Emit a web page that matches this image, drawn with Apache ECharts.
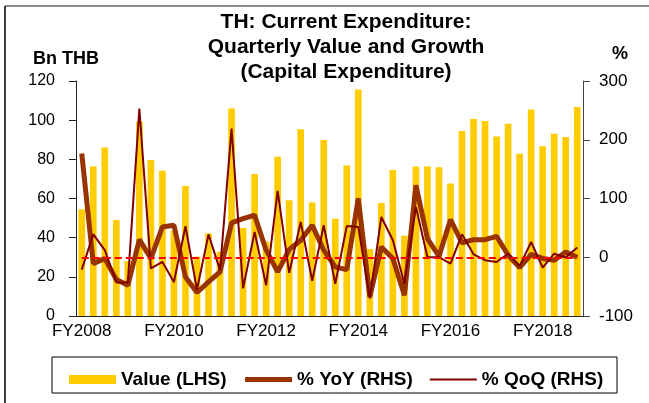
<!DOCTYPE html>
<html>
<head>
<meta charset="utf-8">
<script src="https://cdn.jsdelivr.net/npm/echarts@6/dist/echarts.min.js"></script>
<style>
html,body{margin:0;padding:0;background:#fff;}
#c{width:649px;height:403px;}
</style>
</head>
<body>
<div id="c"></div>
<script>
// Quarterly categories FY2008 Q1 .. FY2018 Q4
var years = ["FY2008","FY2009","FY2010","FY2011","FY2012","FY2013","FY2014","FY2015","FY2016","FY2017","FY2018"];
var quarters = ["Q1","Q2","Q3","Q4"];
var categories = [];
years.forEach(function(y){ quarters.forEach(function(q){ categories.push(y + " " + q); }); });

// Value (LHS), Bn THB
var valueLHS = [54.5,76.3,86,49,28,99.3,79.7,74.2,
                43.6,66.4,30.3,42.2,32.8,105.9,45,72.5,
                38,81.3,59.1,95.3,58,89.9,49.7,76.8,
                115.6,34.2,57.7,74.6,41,76.3,76.4,75.9,
                67.6,94.5,100.6,99.6,91.6,98.2,82.9,105.4,
                86.7,93.1,91.4,106.7];
// % YoY (RHS)
var yoyRHS = [176.5,-10.8,-2,-38,-47.7,30,-2,51.6,
              54.5,-33.5,-60,-42,-25,58.5,65.8,71.5,
              12,-25,13,29,54.5,12,-16.5,-21,
              100,-67.5,17.6,-2,-64.7,122.5,31.8,1.7,
              64,24.4,30,30,35.7,3.4,-17.6,5,
              -2,-5,9,0];
// % QoQ (RHS)
var qoqRHS = [-21,39,12,-43,-43,253,-19,-8,
              -42,52.8,-55,39,-22,219,-53,43,
              -47.7,113,-26.7,60,-40,54.5,-45,53,
              51.6,-70,68.6,29,-45,85.7,0,0,
              -11,39,5,-5,-8,6,-15,26,
              -17.6,6,-0.5,16.5];

var leftTicks = {min:0, max:120, interval:20};
var rightTicks = {min:-100, max:300, interval:100};
var labelEvery = 8;  // one label per two fiscal years
var tickEvery = 4;   // one tick per fiscal year

var FONT = "Liberation Sans, Arial, sans-serif";
var noSymbol = {color:'rgba(0,0,0,0)', borderColor:'rgba(0,0,0,0)', borderWidth:0};
var chart = echarts.init(document.getElementById('c'), null, {renderer:'canvas'});
chart.setOption({
  animation:false,
  backgroundColor:'#fff',
  title:{
    text:'TH: Current Expenditure:\nQuarterly Value and Growth\n(Capital Expenditure)',
    left:346, top:10, padding:0, textAlign:'center',
    textStyle:{fontFamily:FONT, fontSize:21, fontWeight:'bold', color:'#000', lineHeight:25}
  },
  grid:{left:76, right:66, top:81, bottom:87, containLabel:false},
  legend:{
    left:69, top:370, padding:0,
    itemWidth:47, itemHeight:9, itemGap:16,
    textStyle:{fontFamily:FONT, fontSize:19, fontWeight:'bold', color:'#000'},
    data:[{name:'Value (LHS)', icon:'rect'},
          {name:'% YoY (RHS)', itemStyle:noSymbol, lineStyle:{width:5, color:'#993300'}},
          {name:'% QoQ (RHS)', itemStyle:noSymbol, lineStyle:{width:2, color:'#800000'}}]
  },
  xAxis:{
    type:'category', data:categories, boundaryGap:true,
    axisLine:{lineStyle:{color:'#222', width:1}},
    axisTick:{interval:tickEvery-1, length:6, lineStyle:{color:'#222'}},
    axisLabel:{interval:labelEvery-1, margin:7, fontFamily:FONT, fontSize:17, color:'#000',
      formatter:function(v){ return v.split(' ')[0]; }},
    splitLine:{show:false}
  },
  yAxis:[{
    type:'value', min:leftTicks.min, max:leftTicks.max, interval:leftTicks.interval,
    axisLine:{show:true, lineStyle:{color:'#222'}},
    axisTick:{show:true, length:7, lineStyle:{color:'#222'}},
    axisLabel:{margin:21, fontFamily:FONT, fontSize:16, color:'#000'},
    splitLine:{show:false}
  },{
    type:'value', min:rightTicks.min, max:rightTicks.max, interval:rightTicks.interval,
    position:'right',
    axisLine:{show:true, lineStyle:{color:'#444'}},
    axisTick:{show:true, length:7, lineStyle:{color:'#444'}},
    axisLabel:{margin:16, fontFamily:FONT, fontSize:17, color:'#000'},
    splitLine:{show:false}
  }],
  series:[{
    name:'Value (LHS)', type:'bar', yAxisIndex:0, data:valueLHS,
    barCategoryGap:'42%', itemStyle:{color:'#FFCC00'}
  },{
    name:'% YoY (RHS)', type:'line', yAxisIndex:1, data:yoyRHS,
    symbol:'none', lineStyle:{color:'#993300', width:5}, itemStyle:{color:'#993300'},
    markLine:{
      silent:true, symbol:'none', label:{show:false},
      lineStyle:{color:'#FF0000', width:2, type:[7,4]},
      data:[[{coord:[0,0]},{coord:[categories.length-1,0]}]]
    }
  },{
    name:'% QoQ (RHS)', type:'line', yAxisIndex:1, data:qoqRHS,
    symbol:'none', lineStyle:{color:'#800000', width:2}, itemStyle:{color:'#800000'}
  }],
  graphic:[
    {type:'line', shape:{x1:5, y1:6, x2:649, y2:6}, style:{stroke:'#8a8a8a', lineWidth:2}},
    {type:'line', shape:{x1:5, y1:6, x2:5, y2:403}, style:{stroke:'#000', lineWidth:1.5}},
    {type:'text', x:66, y:59, style:{text:'Bn THB', font:'bold 18px '+FONT, fill:'#000', align:'center', verticalAlign:'middle'}},
    {type:'text', x:620, y:54, style:{text:'%', font:'bold 18px '+FONT, fill:'#000', align:'center', verticalAlign:'middle'}},
    {type:'rect', shape:{x:52, y:357, width:565, height:36}, style:{fill:'none', stroke:'#000', lineWidth:1}}
  ]
});
</script>
</body>
</html>
